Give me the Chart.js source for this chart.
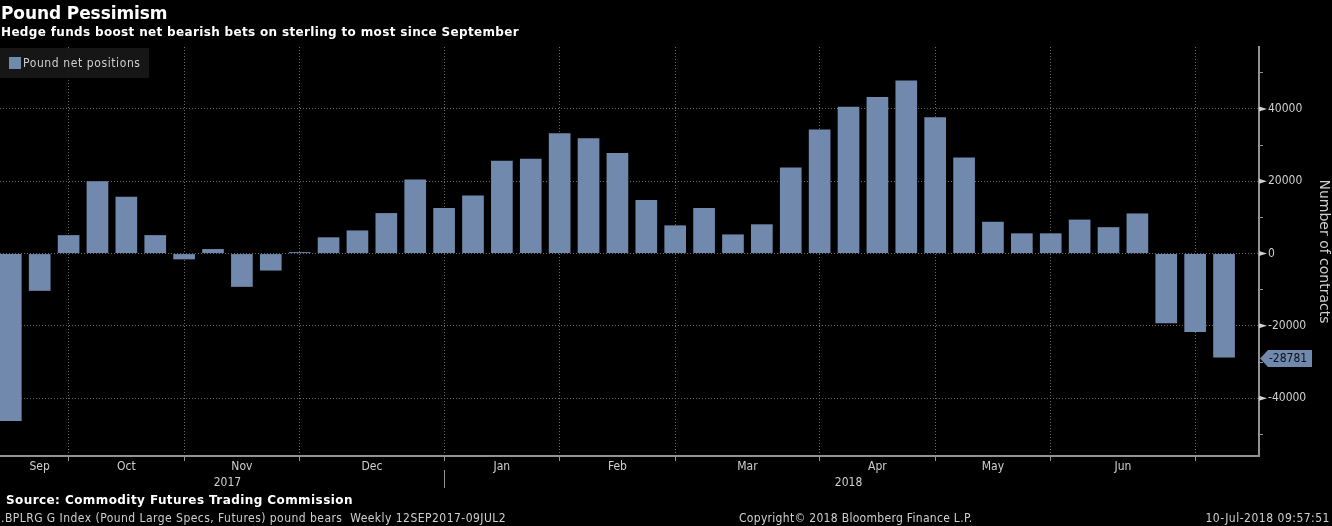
<!DOCTYPE html>
<html>
<head>
<meta charset="utf-8">
<title>Pound Pessimism</title>
<script src="https://cdn.jsdelivr.net/npm/chart.js@4.4.1/dist/chart.umd.min.js"></script>
<style>
  html, body { margin: 0; padding: 0; background: #000; }
  #wrap { position: relative; width: 1332px; height: 526px; overflow: hidden; background: #000; }
  #chart { position: absolute; left: 0; top: 0; }
  .txt { position: absolute; white-space: pre; }
  .bold { font-family: "DejaVu Sans"; font-weight: bold; color: #fff; }
  .cond { font-family: "DejaVu Sans Condensed"; font-size: 12px; line-height: 12px; color: #cfcfcf; }
  #title { left: 1px; top: 5px; font-size: 17px; line-height: 17px; letter-spacing: -0.1px; }
  #subtitle { left: 1px; top: 26px; font-size: 12px; line-height: 12px; letter-spacing: 0.34px; }
  #source { left: 6px; top: 494px; font-size: 12px; line-height: 12px; letter-spacing: 0.42px; }
  #ticker { left: 1px; top: 512px; letter-spacing: 0.46px; }
  #copyright { left: 739px; top: 512px; letter-spacing: 0.3px; }
  #stamp { right: 2px; top: 512px; letter-spacing: 0.5px; }
  #legend { position: absolute; left: 0; top: 48px; width: 149px; height: 30px; background: rgba(24,24,24,0.9); }
  #legend span { position: absolute; }
</style>
</head>
<body>
<div id="wrap">
  <canvas id="chart" width="1332" height="526"></canvas>
  <div class="txt bold" id="title">Pound Pessimism</div>
  <div class="txt bold" id="subtitle">Hedge funds boost net bearish bets on sterling to most since September</div>
  <div id="legend">
    <span style="left:9px;top:9px;width:12px;height:12px;background:#7189ad"></span>
    <span class="cond" style="left:23px;top:9px;letter-spacing:0.6px">Pound net positions</span>
  </div>
  <div class="txt bold" id="source">Source: Commodity Futures Trading Commission</div>
  <div class="txt cond" id="ticker">.BPLRG G Index (Pound Large Specs, Futures) pound bears  Weekly 12SEP2017-09JUL2</div>
  <div class="txt cond" id="copyright">Copyright© 2018 Bloomberg Finance L.P.</div>
  <div class="txt cond" id="stamp">10-Jul-2018 09:57:51</div>
</div>
<script>
// weekly COT reports (Tuesdays)
const weeks = [
  "12SEP2017", "19SEP2017", "26SEP2017",
  "03OCT2017", "10OCT2017", "17OCT2017", "24OCT2017", "31OCT2017",
  "07NOV2017", "14NOV2017", "21NOV2017", "28NOV2017",
  "05DEC2017", "12DEC2017", "19DEC2017", "26DEC2017",
  "02JAN2018", "09JAN2018", "16JAN2018", "23JAN2018", "30JAN2018",
  "06FEB2018", "13FEB2018", "20FEB2018", "27FEB2018",
  "06MAR2018", "13MAR2018", "20MAR2018", "27MAR2018",
  "03APR2018", "10APR2018", "17APR2018", "24APR2018",
  "01MAY2018", "08MAY2018", "15MAY2018", "22MAY2018", "29MAY2018",
  "05JUN2018", "12JUN2018", "19JUN2018", "26JUN2018",
  "03JUL2018"
]

// Pound net positions (contracts)
const netPositions = [
  -46300, -10300, 5100,
  20000, 15700, 5100, -1600, 1250,
  -9200, -4700, 400, 4500,
  6400, 11200, 20500, 12600,
  16100, 25700, 26200, 33300, 31900,
  27800, 14800, 7800, 12600,
  5300, 8100, 23800, 34300,
  40600, 43300, 47900, 37700,
  26600, 8800, 5600, 5600, 9400,
  7300, 11100, -19300, -21700,
  -28781
]

// month dividers: week index where each month label ends
const months = ["Sep", "Oct", "Nov", "Dec", "Jan", "Feb", "Mar", "Apr", "May", "Jun"]
const monthEdges = [2, 6, 10, 15, 19, 23, 28, 32, 36, 41]
const years = ["2017", "2018"]
const yearEdges = [0, 15, weeks.length]

const yLabels = [-40000, -20000, 0, 20000, 40000]
const yMinorTicks = [-50000, -30000, -10000, 10000, 30000, 50000]

const monthCenters = months.map((m, i) => ((i === 0 ? 0 : monthEdges[i - 1]) + monthEdges[i]) / 2)
const yearCenters = years.map((y, i) => (yearEdges[i] + yearEdges[i + 1]) / 2)

const BAR = "#7189ad"
const GRID = "#6a6a6a"
const AXIS = "#929292"
const LABEL = "#cfcfcf"
const condFont = { family: "DejaVu Sans Condensed", size: 12 }

const X_MIN = -0.374
const X_MAX = 43.21

// small extras Bloomberg draws: arrow ticks, year divider, last value tag
const extras = {
  id: "extras",
  afterDraw(chart) {
    const { ctx } = chart
    const y = chart.scales.y
    const x = chart.scales.x
    ctx.save()

    // major tick arrows
    ctx.fillStyle = "#d0d0d0"
    yLabels.forEach(v => {
      const py = y.getPixelForValue(v)
      ctx.beginPath()
      ctx.moveTo(y.left, py - 2.5)
      ctx.lineTo(y.left + 8, py)
      ctx.lineTo(y.left, py + 2.5)
      ctx.closePath()
      ctx.fill()
    })

    // year divider
    const px = Math.round(x.getPixelForValue(yearEdges[1])) + 0.5
    ctx.strokeStyle = AXIS
    ctx.lineWidth = 1
    ctx.beginPath()
    ctx.moveTo(px, 470)
    ctx.lineTo(px, 488)
    ctx.stroke()

    // last value tag
    const last = netPositions[netPositions.length - 1]
    const ly = y.getPixelForValue(last) + 1
    const l = y.left
    ctx.fillStyle = BAR
    ctx.beginPath()
    ctx.moveTo(l + 1, ly)
    ctx.lineTo(l + 9, ly - 8.5)
    ctx.lineTo(l + 53, ly - 8.5)
    ctx.lineTo(l + 53, ly + 8.5)
    ctx.lineTo(l + 9, ly + 8.5)
    ctx.closePath()
    ctx.fill()
    ctx.fillStyle = "#0b1018"
    ctx.font = "12px 'DejaVu Sans Condensed'"
    ctx.textAlign = "center"
    ctx.textBaseline = "middle"
    ctx.fillText(String(last), l + 29, ly + 0.5)
    ctx.restore()
  }
}

new Chart(document.getElementById("chart"), {
  type: "bar",
  data: {
    datasets: [
      {
        label: "Pound net positions",
        data: netPositions.map((v, i) => ({ x: i, y: v, week: weeks[i] })),
        backgroundColor: BAR,
        borderWidth: 0,
        categoryPercentage: 1,
        barPercentage: 0.75
      }
    ]
  },
  options: {
    responsive: false,
    animation: false,
    layout: { padding: { top: 47, left: 0, right: 0, bottom: 0 } },
    plugins: {
      legend: { display: false },
      tooltip: { enabled: false }
    },
    scales: {
      x: {
        type: "linear",
        position: "bottom",
        offset: false,
        weight: 0,
        min: X_MIN,
        max: X_MAX,
        afterBuildTicks: s => { s.ticks = monthEdges.map(v => ({ value: v })) },
        afterFit: s => { s.height = 2 },
        ticks: { display: false },
        grid: { offset: false, color: GRID, drawTicks: true, tickLength: 5, tickColor: AXIS },
        border: { display: true, color: AXIS, width: 2, dash: [1, 2] }
      },
      xMonth: {
        type: "linear",
        position: "bottom",
        offset: false,
        weight: 1,
        min: X_MIN,
        max: X_MAX,
        afterBuildTicks: s => { s.ticks = monthCenters.map(v => ({ value: v })) },
        afterFit: s => { s.height = 16 },
        ticks: { autoSkip: false, maxRotation: 0, padding: 2, color: LABEL, font: condFont,
                 callback: (v, i) => months[i] },
        grid: { display: false, offset: false, drawTicks: false },
        border: { display: false }
      },
      xYear: {
        type: "linear",
        position: "bottom",
        offset: false,
        weight: 2,
        min: X_MIN,
        max: X_MAX,
        afterBuildTicks: s => { s.ticks = yearCenters.map(v => ({ value: v })) },
        afterFit: s => { s.height = 52 },
        ticks: { autoSkip: false, maxRotation: 0, padding: 2, color: LABEL, font: condFont,
                 callback: (v, i) => years[i] },
        grid: { display: false, offset: false, drawTicks: false },
        border: { display: false }
      },
      y: {
        type: "linear",
        position: "right",
        min: -56000,
        max: 57150,
        afterBuildTicks: s => {
          s.ticks = yLabels.concat(yMinorTicks).sort((a, b) => a - b).map(v => ({ value: v }))
        },
        afterFit: s => { s.width = 73 },
        ticks: {
          autoSkip: false,
          padding: 5,
          color: LABEL,
          font: condFont,
          callback: v => (yLabels.includes(v) ? String(v) : "")
        },
        grid: {
          color: c => (c.tick && yLabels.includes(c.tick.value) ? GRID : "rgba(0,0,0,0)"),
          drawTicks: true,
          tickLength: 4,
          tickColor: AXIS
        },
        border: { display: true, color: AXIS, width: 2, dash: [1, 2] },
        title: {
          display: true,
          text: "Number of contracts",
          color: LABEL,
          font: { family: "DejaVu Sans", size: 14 },
          padding: { top: 0, bottom: 1 }
        }
      }
    }
  },
  plugins: [extras]
})
</script>
</body>
</html>
